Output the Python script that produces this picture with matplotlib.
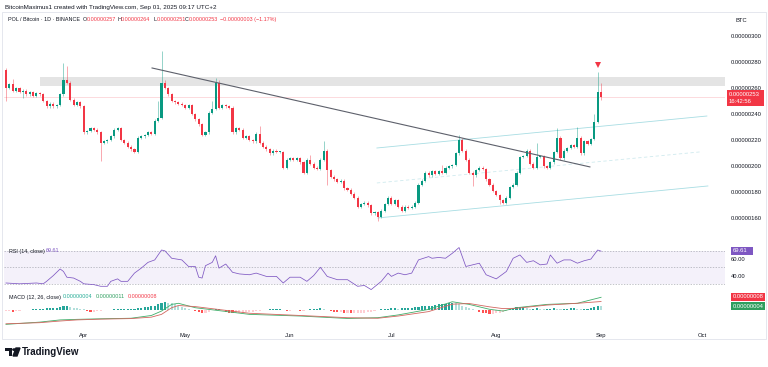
import matplotlib
matplotlib.use('Agg')
import matplotlib.pyplot as plt
import numpy as np
from matplotlib.patches import Rectangle, Polygon, Circle

plt.rcParams['font.family'] = ['Liberation Sans', 'DejaVu Sans']

# ---- data (prices in units of 1e-8 BTC) ----
first_open = 274
closes = [260, 263, 258, 260, 257, 258, 255, 257, 254, 256,
          255, 250, 246, 248, 246, 247, 255, 266, 264, 251,
          247, 249, 246, 226, 227, 229, 228, 226, 218, 219,
          220, 223, 228, 229, 220, 218, 215, 213, 211, 222,
          223, 224, 226, 225, 235, 237, 264, 260, 255, 250,
          249, 248, 247, 245, 247, 240, 236, 232, 224, 226,
          241, 244, 264, 245, 247, 246, 245, 226, 229, 228,
          222, 223, 220, 219, 225, 218, 215, 213, 210, 212,
          211, 211, 199, 205, 206, 205, 206, 203, 195, 205,
          202, 199, 198, 205, 212, 197, 192, 190, 188, 189,
          183, 182, 179, 176, 169, 171, 172, 170, 164, 165,
          161, 166, 171, 176, 171, 174, 169, 166, 169, 168,
          169, 172, 186, 189, 195, 193, 196, 194, 196, 195,
          199, 200, 201, 210, 220, 212, 205, 195, 193, 197,
          199, 198, 190, 186, 181, 178, 174, 172, 176, 184,
          186, 195, 207, 208, 212, 202, 199, 207, 208, 200,
          199, 203, 211, 222, 206, 212, 214, 216, 215, 222,
          210, 219, 217, 221, 234, 257, 253]
wick_highs = {0: 275, 2: 267, 17: 279, 18: 277, 45: 250, 46: 288, 47: 266,
              61: 250, 62: 268, 63: 266, 75: 231, 90: 209, 94: 219, 129: 201,
              134: 224, 135: 222, 157: 218, 163: 229, 169: 230, 174: 240,
              175: 272, 176: 264}
wick_lows = {0: 250, 5: 252, 28: 204, 95: 186, 110: 158, 138: 185, 146: 171,
             176: 251}

rsi_day = [0, 4, 9, 11, 12, 14, 16, 17, 18, 20, 22, 23, 26, 28, 30, 31, 33, 34,
           36, 38, 40, 42, 44, 46, 47, 49, 52, 54, 56, 57, 58, 59, 61, 62, 63,
           65, 67, 69, 72, 74, 77, 80, 82, 84, 87, 89, 91, 93, 95, 98, 101,
           104, 106, 108, 111, 113, 114, 116, 118, 120, 122, 125, 126, 128,
           130, 132, 134, 136, 138, 140, 142, 145, 148, 150, 152, 154, 156,
           158, 160, 161, 163, 165, 167, 169, 171, 173, 175, 176]
rsi_val = [31, 30, 31, 30, 33, 40, 48, 45, 38, 37, 33, 30, 29, 27, 27, 33, 36, 33,
           33, 43, 49, 56, 59, 71, 70, 61, 59, 51, 51, 38, 37, 52, 56, 64, 49,
           54, 44, 42, 41, 43, 39, 39, 31, 38, 38, 33, 40, 50, 39, 35, 35,
           27, 28, 23, 33, 43, 39, 43, 41, 43, 59, 63, 61, 62,
           61, 67, 74, 51, 53, 55, 41, 36, 45, 61, 65, 56, 58,
           53, 54, 65, 55, 59, 59, 55, 58, 60, 71, 69.61]

macd_day = [0, 10, 16, 21, 28, 37, 43, 46, 49, 51, 56, 60, 72, 87, 101, 110,
            116, 125, 132, 137, 143, 147, 151, 160, 169, 176]
macd_val = [-13, -11, -9, -8.5, -8, -7.5, -5, -1, 5, 6, 2, 0.5, -4, -5.5, -7.7,
            -7, -4.5, 0.5, 7.4, 5, 0.6, -1, 2, 5, 6, 11.4]
signal_val = [-12.5, -11.5, -10, -9, -8.3, -7.8, -6.5, -4, 2, 4, 3, 1.5, -3, -5,
              -7, -7.5, -5.5, -1.5, 5.2, 5.8, 2.8, 1.2, 1.5, 4.4, 6, 7.6]
hist = [-1, -1, -1.5, -1, -1, -0.5, -0.5, -0.5, 0.5, 0.5,
        1, 1, 1.5, 1.5, 2, 2, 3, 4, 4, 3,
        2, 1.5, 1, 0.5, -1, -1.5, -1.5, -1, -1, -0.5,
        -0.5, -0.5, 0.5, 0.5, 0.5, 0.5, 0.5, 0.5, 1, 1.5,
        2, 2.5, 3, 3.5, 4, 5, 6.5, 7, 6.5, 6,
        5, 4, 3, 2, 1, 0, -1, -2, -3, -2.5,
        -1.5, -0.5, 0.5, 0.5, -0.5, -1.5, -2.5, -3, -3, -2.5,
        -2.5, -2, -2, -1.5, -1, -1, -0.5, -0.5, 0.5, 0.5,
        0.5, 0.5, -0.5, -1, -1, -0.5, -0.5, -1, -1, -0.5,
        0.5, 0.5, 1, 1.5, 0.5, -0.5, -1, -1.5, -2, -2,
        -2.5, -2.5, -3, -3, -3, -2.5, -2.5, -2, -1.5, -1,
        -0.5, 0.5, 1, 1, 1.5, 1.5, 1, 1.5, 1.5, 2,
        2, 2.5, 3, 3.5, 3.5, 4, 4, 4.5, 5, 5,
        5.5, 6, 6.5, 6, 5, 3.5, 2.5, 1.5, 0.5, -0.5,
        -1.5, -2.5, -3, -3.5, -3.5, -3, -2.5, -2, -1, 0.5,
        1.5, 2.5, 3, 3, 2, 1, 1, 1.5, 1, 0.5,
        0.5, 1, 2, 1, 0.5, 1, 1, 1.5, 1.5, 1,
        0.5, 1, 1, 1.5, 2.5, 4, 3.8]

month_days = [23, 53, 84, 114, 145, 176, 206]
month_names = ['Apr', 'May', 'Jun', 'Jul', 'Aug', 'Sep', 'Oct']
price_ticks = [160, 180, 200, 220, 240, 260, 280, 300]

# drawings (day, price)
trend_line = [(43.2, 275.3), (172.7, 199.5)]
chan_upper = [(109.7, 214.0), (207.3, 238.5)]
chan_mid = [(109.7, 187.2), (205.3, 211.0)]
chan_lower = [(110.0, 160.4), (207.6, 184.9)]
zone = (10.0, 261.5, 268.4)

UP, DN = '#089981', '#f23645'
TXT = '#131722'
W, H = 768, 367
FS = 4.2


def rect(x0, y0, x1, y1):
    return [x0 / W, 1 - y1 / H, (x1 - x0) / W, (y1 - y0) / H]


def ftext(x, y, s, **kw):
    kw.setdefault('fontsize', FS)
    fig.text(x / W, 1 - y / H, s, va='center', **kw)


def fbox(x0, y0, x1, y1, color):
    fig.add_artist(Rectangle((x0 / W, 1 - y1 / H), (x1 - x0) / W, (y1 - y0) / H,
                             transform=fig.transFigure, facecolor=color,
                             edgecolor='none'))


fig = plt.figure(figsize=(7.68, 3.67), dpi=100)
fig.patch.set_facecolor('white')

ax = fig.add_axes(rect(4, 12, 725, 243))
ax_rsi = fig.add_axes(rect(4, 243, 725, 290), sharex=ax)
ax_macd = fig.add_axes(rect(4, 290, 725, 326), sharex=ax)
for a in (ax, ax_rsi, ax_macd):
    for s in a.spines.values():
        s.set_visible(False)
    a.tick_params(length=0)
    a.set_facecolor('none')

ax.set_xlim(-0.59, 212.66)
ax.set_ylim(141.2, 318.2)

# candles
days = np.arange(len(closes))
opens = [first_open] + closes[:-1]
colors = [UP if c >= o else DN for o, c in zip(opens, closes)]
wick_stub = 1
highs = [wick_highs.get(i, max(o, c) + wick_stub) for i, (o, c) in enumerate(zip(opens, closes))]
lows = [wick_lows.get(i, min(o, c) - wick_stub) for i, (o, c) in enumerate(zip(opens, closes))]
ax.vlines(days, lows, highs, colors=colors, lw=0.5, alpha=0.6, zorder=3)
bottoms = [min(o, c) for o, c in zip(opens, closes)]
heights = [max(abs(c - o), 0.6) for o, c in zip(opens, closes)]
ax.bar(days, heights, bottom=bottoms, width=0.62, color=colors, lw=0, zorder=4)

# zone, trend and channel
ax.add_patch(Rectangle((zone[0], zone[1]), 300, zone[2] - zone[1],
                       facecolor='#e4e4e4', edgecolor='none', zorder=1))
ax.axhline(closes[-1], color=DN, lw=0.5, alpha=0.25, zorder=1)
ax.plot(*zip(*trend_line), color='#5d606b', lw=0.8, zorder=5)
ax.plot(*zip(*chan_upper), color='#a8dde3', lw=0.6, zorder=2)
ax.plot(*zip(*chan_mid), color='#cfeaee', lw=0.6, ls=(0, (4, 3)), zorder=2)
ax.plot(*zip(*chan_lower), color='#a8dde3', lw=0.6, zorder=2)
ax.plot([175], [277.6], marker='v', color=DN, ms=4.5, mew=0, zorder=6)

ax.yaxis.tick_right()
ax.set_yticks(price_ticks)
ax.set_yticklabels([f'{v / 1e8:.8f}' for v in price_ticks])
ax.tick_params(axis='y', labelsize=FS, labelcolor=TXT, pad=4)
ax.tick_params(axis='x', labelbottom=False)

# RSI
ax_rsi.set_ylim(22.5, 79.5)
ax_rsi.axhspan(30, 70, color='#7e57c2', alpha=0.08, lw=0)
for lvl in (70, 50, 30):
    ax_rsi.axhline(lvl, color='#9598a1', lw=0.5, ls=(0, (2, 2)), alpha=0.8)
ax_rsi.plot(rsi_day, rsi_val, color='#7e57c2', lw=0.55)
ax_rsi.yaxis.tick_right()
ax_rsi.set_yticks([40, 60])
ax_rsi.set_yticklabels(['40.00', '60.00'])
ax_rsi.tick_params(axis='y', labelsize=FS, labelcolor=TXT, pad=4)
ax_rsi.tick_params(axis='x', labelbottom=False)

# MACD
ax_macd.set_ylim(-14.5, 18)
hcol = []
for i, v in enumerate(hist):
    prev = hist[i - 1] if i > 0 else v
    if v >= 0:
        hcol.append('#26a69a' if v >= prev else '#b2dfdb')
    else:
        hcol.append('#ffcdd2' if v >= prev else '#ff5252')
ax_macd.bar(days, hist, width=0.62, color=hcol, lw=0)
ax_macd.plot(macd_day, macd_val, color='#3fae6a', lw=0.6)
ax_macd.plot(macd_day, signal_val, color='#d2665f', lw=0.6)
ax_macd.set_yticks([])
ax_macd.set_xticks(month_days)
ax_macd.set_xticklabels(month_names)
ax_macd.tick_params(axis='x', labelsize=FS, labelcolor=TXT, pad=5)

# frame
fig.add_artist(Rectangle((2 / W, 1 - 339 / H), 764 / W, 327 / H, transform=fig.transFigure,
                         facecolor='none', edgecolor='#e0e3eb', lw=0.6))

# header texts
ftext(5, 7, 'BitcoinMaximus1 created with TradingView.com, Sep 01, 2025 09:17 UTC+2',
      fontsize=4.5, color=TXT)
ftext(8, 19.5, 'POL / Bitcoin · 1D · BINANCE', fontsize=3.9, color=TXT)
for xl, lab, val in ((83, 'O', '0.00000257'), (117, 'H', '0.00000264'),
                     (153, 'L', '0.00000251'), (185, 'C', '0.00000253')):
    ftext(xl, 19.5, lab, fontsize=3.9, color=TXT)
    ftext(xl + 3.5, 19.5, val, fontsize=3.9, color=DN)
ftext(220, 19.5, '\u22120.00000003 (\u22121.17%)', fontsize=3.9, color=DN)
ftext(735, 20, 'BTC', color=TXT)

# last price label
fbox(727, 90, 764, 106, DN)
ftext(729, 94.5, '0.00000253', color='white')
ftext(729, 101.5, '16:42:56', color='white')

# RSI legend + label
ftext(9, 251, 'RSI (14, close)', fontsize=3.9, color=TXT)
ftext(46, 251, '69.61', fontsize=3.9, color='#7e57c2')
fbox(731, 247, 753, 255, '#7e57c2')
ftext(733, 251, '69.61', color='white')

# MACD legend + labels
ftext(9, 297, 'MACD (12, 26, close)', fontsize=3.9, color=TXT)
ftext(63, 297, '0.00000004', fontsize=3.9, color='#22ab94')
ftext(96, 297, '0.00000011', fontsize=3.9, color='#2e9e5e')
ftext(128, 297, '0.00000008', fontsize=3.9, color=DN)
fbox(731, 293, 765, 301, DN)
ftext(733, 297, '0.00000008', color='white')
fbox(731, 302, 765, 310, '#2e9e5e')
ftext(733, 306, '0.00000004', color='white')

# TradingView logo
fbox(5, 348, 12, 351, TXT)
fbox(8.5, 348, 12, 356, TXT)
fig.add_artist(Circle((14.2 / W, 1 - 349.6 / H), 1.4 / W, transform=fig.transFigure,
                      color=TXT))
fig.add_artist(Polygon([(16 / W, 1 - 348 / H), (20 / W, 1 - 348 / H),
                        (17 / W, 1 - 356 / H), (13 / W, 1 - 356 / H)],
                       closed=True, transform=fig.transFigure, color=TXT))
ftext(22, 352, 'TradingView', fontsize=7, color=TXT, fontweight='bold')

fig.savefig('out.png', dpi=100, facecolor='white')
